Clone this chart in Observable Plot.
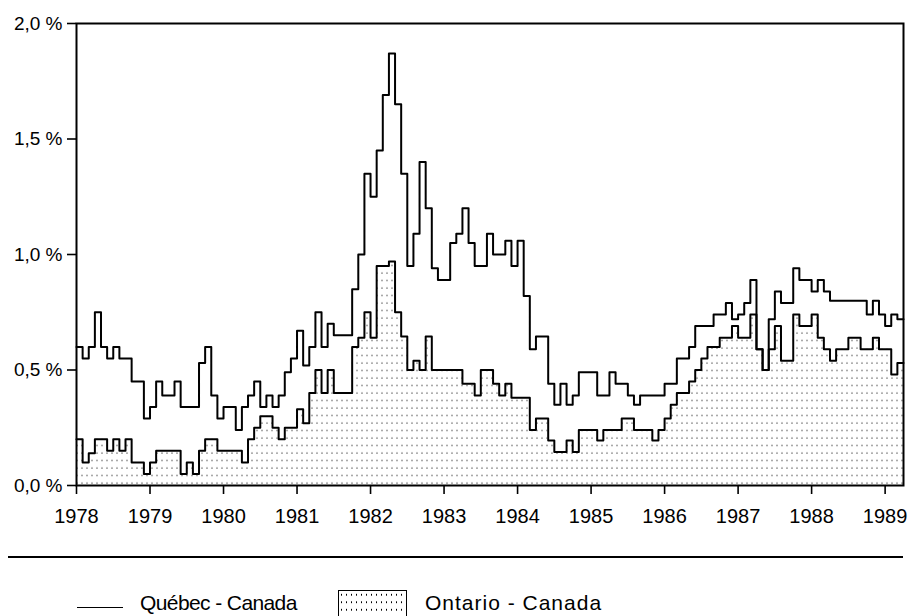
<!DOCTYPE html>
<html>
<head>
<meta charset="utf-8">
<script src="https://cdn.jsdelivr.net/npm/d3@7"></script>
<script src="https://cdn.jsdelivr.net/npm/@observablehq/plot@0.6"></script>
<style>
  html, body { margin: 0; padding: 0; background: #fff; }
  body { width: 912px; height: 616px; overflow: hidden; position: relative;
         font-family: "Liberation Sans", Arial, sans-serif; color: #000; }
  #chart { position: absolute; left: 0; top: 0; }
  .sep { position: absolute; left: 8px; top: 556px; width: 895px; border-top: 2px solid #000; }
  .sw-line { position: absolute; left: 77px; top: 607px; width: 46px; border-top: 1.6px solid #000; }
  .lab { position: absolute; top: 592px; font-size: 21px; line-height: 22px; white-space: nowrap; }
  .sw-box { position: absolute; left: 338px; top: 590px; width: 67px; height: 40px; border: 1.5px solid #000;
            background: radial-gradient(circle, #000 0.55px, transparent 0.9px) 0 0 / 5px 7.5px; }
</style>
</head>
<body>
<div id="chart"></div>
<div class="sep"></div>
<div class="sw-line"></div>
<div class="lab" id="lq" style="left:140px; letter-spacing:-0.6px;"></div>
<div class="sw-box"></div>
<div class="lab" id="lo" style="left:425px; letter-spacing:1px;"></div>
<script>
// Monthly differences in unemployment rate (percentage points), Jan 1978 – Mar 1989
const startYear = 1978;
const seriesNames = ["Québec - Canada", "Ontario - Canada"];
const quebec = [
  0.60,0.55,0.60,0.75,0.60,0.55,0.60,0.55,0.55,0.45,0.45,0.29,
  0.34,0.45,0.39,0.39,0.45,0.34,0.34,0.34,0.53,0.60,0.39,0.29,
  0.34,0.34,0.24,0.34,0.39,0.45,0.34,0.39,0.34,0.39,0.49,0.55,
  0.67,0.52,0.60,0.75,0.60,0.70,0.65,0.65,0.65,0.85,1.00,1.35,
  1.25,1.45,1.69,1.87,1.65,1.35,0.95,1.09,1.40,1.20,0.94,0.89,
  0.89,1.05,1.09,1.20,1.05,0.95,0.95,1.09,1.00,1.00,1.06,0.95,
  1.06,0.82,0.59,0.645,0.645,0.44,0.35,0.44,0.35,0.39,0.49,0.49,
  0.49,0.39,0.39,0.49,0.44,0.44,0.39,0.35,0.39,0.39,0.39,0.39,
  0.44,0.44,0.55,0.55,0.60,0.69,0.69,0.69,0.74,0.74,0.79,0.72,
  0.74,0.79,0.89,0.59,0.50,0.72,0.84,0.79,0.79,0.94,0.89,0.89,
  0.84,0.89,0.84,0.80,0.80,0.80,0.80,0.80,0.80,0.74,0.80,0.74,
  0.69,0.74,0.72
];
const ontario = [
  0.20,0.10,0.14,0.20,0.20,0.15,0.20,0.15,0.20,0.10,0.10,0.05,
  0.10,0.15,0.15,0.15,0.15,0.05,0.10,0.05,0.15,0.20,0.20,0.15,
  0.15,0.15,0.15,0.10,0.20,0.25,0.30,0.30,0.25,0.20,0.25,0.25,
  0.33,0.27,0.40,0.50,0.40,0.50,0.40,0.40,0.40,0.60,0.64,0.75,
  0.64,0.95,0.95,0.97,0.75,0.645,0.50,0.54,0.50,0.645,0.50,0.50,
  0.50,0.50,0.50,0.44,0.44,0.39,0.50,0.50,0.44,0.39,0.44,0.38,
  0.38,0.38,0.24,0.29,0.29,0.195,0.145,0.145,0.195,0.145,0.24,0.24,
  0.24,0.195,0.24,0.24,0.24,0.29,0.29,0.24,0.24,0.24,0.195,0.24,
  0.29,0.35,0.40,0.40,0.45,0.50,0.55,0.60,0.60,0.64,0.64,0.69,
  0.64,0.64,0.74,0.59,0.50,0.59,0.69,0.54,0.54,0.74,0.69,0.69,
  0.74,0.64,0.59,0.54,0.59,0.59,0.64,0.64,0.59,0.59,0.64,0.59,
  0.59,0.48,0.53
];
const yearTicks = [1978,1979,1980,1981,1982,1983,1984,1985,1986,1987,1988,1989];
const yTicks = [0, 0.5, 1, 1.5, 2];
const yTickLabels = ["0,0 %", "0,5 %", "1,0 %", "1,5 %", "2,0 %"];

document.getElementById("lq").textContent = seriesNames[0];
document.getElementById("lo").textContent = seriesNames[1];

const rows = quebec.map((q, i) => ({t: startYear + i / 12, q, o: ontario[i]}));
// closing point so the last monthly step has its full width
rows.push({t: startYear + quebec.length / 12, q: quebec[quebec.length - 1], o: ontario[ontario.length - 1]});

const chart = Plot.plot({
  width: 912,
  height: 545,
  marginLeft: 76,
  marginRight: 9,
  marginTop: 23,
  marginBottom: 60,
  style: {fontFamily: "'Liberation Sans', Arial, sans-serif", color: "#000", background: "#fff", overflow: "visible"},
  x: {domain: [startYear, startYear + quebec.length / 12], label: null},
  y: {domain: [0, 2], label: null},
  marks: [
    Plot.areaY(rows, {x: "t", y: "o", curve: "step-after", fill: "url(#dots)"}),
    Plot.lineY(rows, {x: "t", y: "o", curve: "step-after", stroke: "#000", strokeWidth: 2}),
    Plot.lineY(rows, {x: "t", y: "q", curve: "step-after", stroke: "#000", strokeWidth: 2}),
    Plot.frame({stroke: "#000", strokeWidth: 2}),
    Plot.axisX({ticks: yearTicks, tickFormat: d => String(d), tickSize: 9, tickPadding: 14,
                fontSize: 20, strokeWidth: 1.6, label: null}),
    Plot.axisY({ticks: yTicks, tickFormat: d => yTickLabels[yTicks.indexOf(d)], tickSize: 9, tickPadding: 5,
                fontSize: 19, strokeWidth: 1.6, label: null})
  ]
});

const svg = d3.select(chart);
const pat = svg.insert("defs", ":first-child")
  .append("pattern")
  .attr("id", "dots")
  .attr("patternUnits", "userSpaceOnUse")
  .attr("width", 5)
  .attr("height", 7.5);
pat.append("circle").attr("cx", 2).attr("cy", 3).attr("r", 0.6).attr("fill", "#000");

document.getElementById("chart").appendChild(chart);
</script>
</body>
</html>
